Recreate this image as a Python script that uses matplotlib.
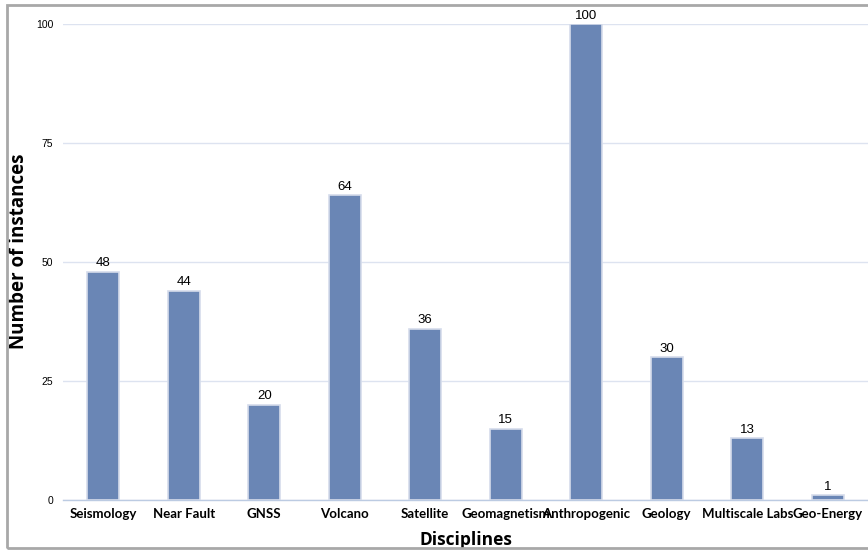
import matplotlib.pyplot as plt
import numpy as np
from matplotlib.patches import Rectangle

# data
disciplines = ['Seismology', 'Near Fault', 'GNSS', 'Volcano', 'Satellite',
               'Geomagnetism', 'Anthropogenic', 'Geology', 'Multiscale Labs', 'Geo-Energy']
instances = [48, 44, 20, 64, 36, 15, 100, 30, 13, 1]
yticks = [0, 25, 50, 75, 100]

barColor = '#6a86b5'
gridColor = '#dde3f0'

fig = plt.figure(figsize=(8.68, 5.51), dpi=100)
ax = fig.add_axes([63/868, 51/551, 1 - 63/868, 476/551])

x = np.arange(len(disciplines))
bars = ax.bar(x, instances, width=0.4, color=barColor, edgecolor='#d5dceb', linewidth=1.2, zorder=3)

# value labels above bars
for xi, v in zip(x, instances):
    ax.text(xi, v + 0.5, str(v), ha='center', va='bottom', fontsize=9.5,
            family='Liberation Sans', clip_on=False)

ax.set_xlim(-0.5, 9.5)
ax.set_ylim(0, 100)
ax.set_yticks(yticks)
ax.set_yticklabels([str(t) for t in yticks], family='Liberation Sans', fontsize=7.5)
ax.set_xticks(x)
ax.set_xticklabels(disciplines, fontsize=9.5, fontweight='bold', family='Lato')
ax.tick_params(axis='both', length=0)
ax.tick_params(axis='y', pad=7)
ax.tick_params(axis='x', pad=6)

ax.yaxis.grid(True, color=gridColor, linewidth=1.0, zorder=0)
for s in ['top', 'right', 'left']:
    ax.spines[s].set_visible(False)
ax.spines['bottom'].set_color('#bccbe2')
ax.spines['bottom'].set_linewidth(1.0)

ax.set_xlabel('Disciplines', fontsize=12.5, fontweight='bold', family='Open Sans', va='baseline')
ax.set_ylabel('Number of instances', fontsize=13.5, fontweight='bold', family='Open Sans')
ax.xaxis.set_label_coords(0.5, -0.094)
ax.yaxis.set_label_coords(-0.042, 0.523)

# grey frame around the figure
fig.patches.append(Rectangle((7/868, 3/551), 1.0, 543/551, transform=fig.transFigure,
                             fill=False, edgecolor='#a8a8a8', linewidth=2, clip_on=False))

fig.savefig('out.png', dpi=100)
